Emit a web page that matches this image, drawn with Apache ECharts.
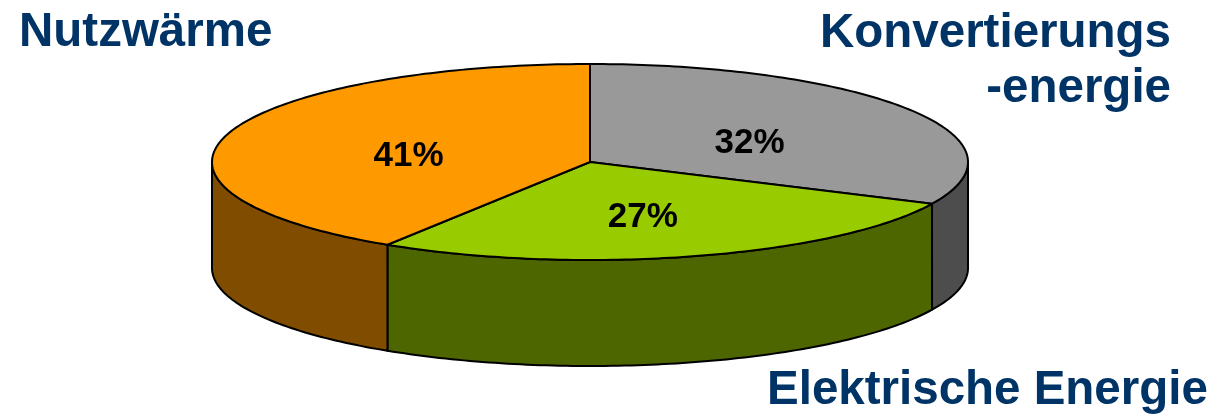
<!DOCTYPE html>
<html>
<head>
<meta charset="utf-8">
<script src="https://cdn.jsdelivr.net/npm/echarts@6/dist/echarts.min.js"></script>
<style>
html,body{margin:0;padding:0;background:#fff;}
#chart{width:1216px;height:419px;}
</style>
</head>
<body>
<div id="chart"></div>
<script>
// ---- data ----
var categories = ['Konvertierungsenergie', 'Elektrische Energie', 'Nutzwärme'];
var values = [32, 27, 41];
var percentLabels = ['32%', '27%', '41%'];
var topColors = ['#999999', '#99CC00', '#FF9900'];
var sideColors = ['#4D4D4D', '#4D6600', '#804C00'];

// ---- geometry (layout only) ----
var CX = 590, CY = 162, RX = 378, RY = 98, DEPTH = 106;

var total = values.reduce(function (a, b) { return a + b; }, 0);
var starts = [], ends = [];
(function () {
  var acc = 0;
  for (var i = 0; i < values.length; i++) {
    starts.push(acc / total * 360);
    acc += values[i];
    ends.push(acc / total * 360);
  }
})();

function pt(deg, dy) {
  var r = deg * Math.PI / 180;
  return [CX + RX * Math.sin(r), CY - RY * Math.cos(r) + (dy || 0)];
}
function arcPts(a, b, dy) {
  var pts = [];
  var n = Math.max(2, Math.ceil(Math.abs(b - a)));
  for (var k = 0; k <= n; k++) pts.push(pt(a + (b - a) * k / n, dy));
  return pts;
}

var FONT = '"Liberation Sans", Arial, sans-serif';
function outerLabel(text, x, y, align) {
  return { type: 'text', z: 100, style: { text: text, x: x, y: y, align: align, verticalAlign: 'middle', fontSize: 47.5, fontWeight: 'bold', fontFamily: FONT, fill: '#003366' } };
}

var chart = echarts.init(document.getElementById('chart'), null, { renderer: 'canvas' });
var seriesData = values.map(function (v, i) { return { name: categories[i], value: [v, i] }; });

chart.setOption({
  backgroundColor: '#ffffff',
  animation: false,
  graphic: [
    outerLabel('Nutzwärme', 19, 33, 'left'),
    outerLabel('Konvertierungs', 1171, 34, 'right'),
    outerLabel('-energie', 1171, 89, 'right'),
    outerLabel('Elektrische Energie', 767, 391, 'left')
  ],
  series: [
    {
      type: 'custom',
      coordinateSystem: 'none',
      z: 1,
      data: seriesData,
      renderItem: function (params, api) {
        var i = api.value(1);
        var a = Math.max(starts[i], 90), b = Math.min(ends[i], 270);
        if (b <= a) return { type: 'group', children: [] };
        var top = arcPts(a, b, 0);
        var bottom = arcPts(a, b, DEPTH).reverse();
        return {
          type: 'polygon',
          shape: { points: top.concat(bottom) },
          style: { fill: sideColors[i], stroke: '#000', lineWidth: 2, lineJoin: 'round' }
        };
      }
    },
    {
      type: 'custom',
      coordinateSystem: 'none',
      z: 2,
      data: seriesData,
      renderItem: function (params, api) {
        var i = api.value(1);
        var pts = [[CX, CY]].concat(arcPts(starts[i], ends[i], 0));
        var mid = (starts[i] + ends[i]) / 2 * Math.PI / 180;
        var lx = CX + 0.5 * RX * Math.sin(mid);
        var ly = CY - 0.5 * RY * Math.cos(mid) + 8;
        return {
          type: 'group',
          children: [
            { type: 'polygon', shape: { points: pts }, style: { fill: topColors[i], stroke: '#000', lineWidth: 2, lineJoin: 'round' } },
            { type: 'text', z2: 10, style: { text: percentLabels[i], x: lx, y: ly, align: 'center', verticalAlign: 'middle', fontSize: 35, fontWeight: 'bold', fontFamily: FONT, fill: '#000' } }
          ]
        };
      }
    }
  ]
});
</script>
</body>
</html>
